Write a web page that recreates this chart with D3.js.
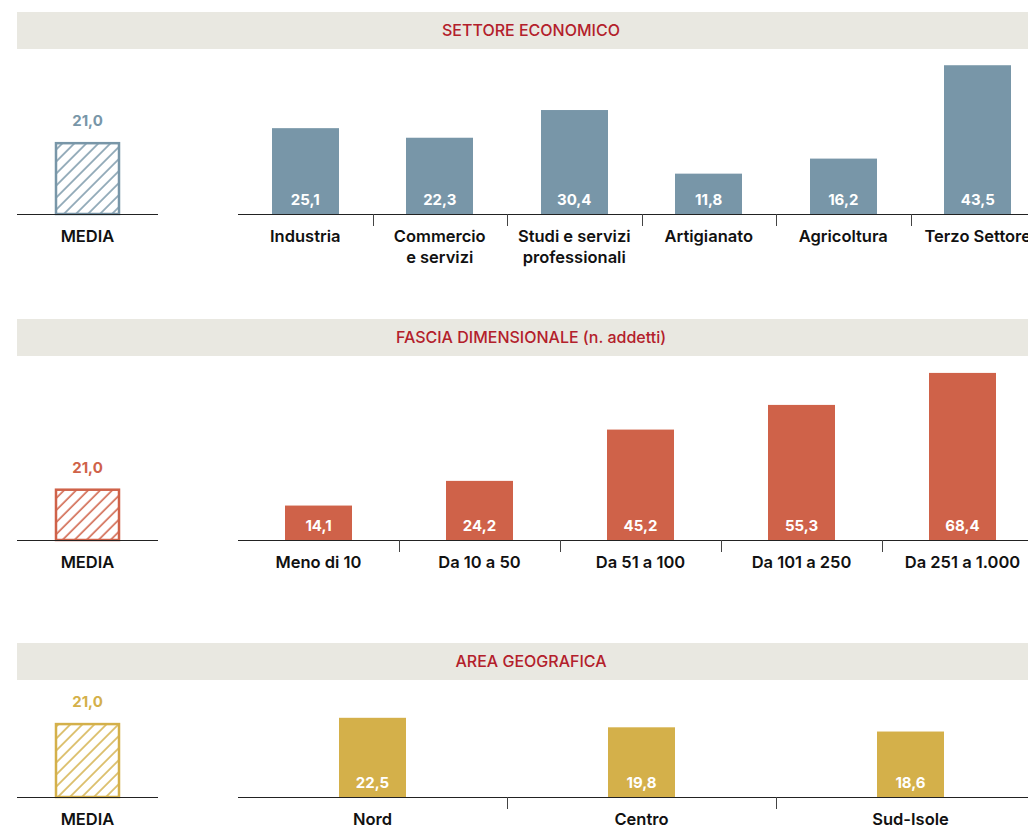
<!DOCTYPE html>
<meta charset="utf-8">
<style>
	body { margin: 0; background: #fff; }
	svg text { font-family: Inter, "Noto Sans", sans-serif; }
	.band { fill: #e9e8e1; }
	.title { fill: #b3202b; font-size: 16px; font-weight: 500; }
	.cat { fill: #111; font-size: 16.5px; font-weight: 600; }
	.val { fill: #fff; font-size: 15px; font-weight: 700; }
	.media-val { font-size: 15px; font-weight: 700; }
</style>
<body>
<svg width="1028" height="827"></svg>
</body>
<script src="https://cdn.jsdelivr.net/npm/d3@7"></script>
<script>

	// settore economico
	var settoreCats = ["Industria", "Commercio\ne servizi", "Studi e servizi\nprofessionali", "Artigianato", "Agricoltura", "Terzo Settore"];
	var settoreVals = [25.1, 22.3, 30.4, 11.8, 16.2, 43.5];

	// fascia dimensionale
	var fasciaCats = ["Meno di 10", "Da 10 a 50", "Da 51 a 100", "Da 101 a 250", "Da 251 a 1.000"];
	var fasciaVals = [14.1, 24.2, 45.2, 55.3, 68.4];

	// area geografica
	var areaCats = ["Nord", "Centro", "Sud-Isole"];
	var areaVals = [22.5, 19.8, 18.6];

	var media = 21.0;

	var svg = d3.select("svg");
	var defs = svg.append("defs");
	var fmt = function(v) { return d3.format(".1f")(v).replace(".", ","); };
	var barW = 67;

	var panels = [
		{ title: "SETTORE ECONOMICO", cats: settoreCats, vals: settoreVals, color: "#7896a8",
		  bandY: 12, base: 214, max: 50, h: 171, xEnd: 1045 },
		{ title: "FASCIA DIMENSIONALE (n. addetti)", cats: fasciaCats, vals: fasciaVals, color: "#cf6249",
		  bandY: 319, base: 540, max: 70, h: 171, xEnd: 1043 },
		{ title: "AREA GEOGRAFICA", cats: areaCats, vals: areaVals, color: "#d4b04a",
		  bandY: 643, base: 797, max: 25, h: 88, xEnd: 1045 }
	];

	panels.forEach(function(p, pi) {
		var g = svg.append("g");

		// header band
		g.append("rect").attr("class", "band")
			.attr("x", 17).attr("y", p.bandY)
			.attr("width", 1011).attr("height", 37);
		g.append("text").attr("class", "title")
			.attr("x", 531).attr("y", p.bandY + 24)
			.attr("text-anchor", "middle")
			.text(p.title);

		var y = d3.scaleLinear().domain([0, p.max]).range([p.base, p.base - p.h]);

		// hatch pattern for media
		var pat = defs.append("pattern")
			.attr("id", "hatch" + pi)
			.attr("patternUnits", "userSpaceOnUse")
			.attr("width", 8.5).attr("height", 8.5)
			.attr("patternTransform", "rotate(45)");
		pat.append("line")
			.attr("x1", 1).attr("y1", 0).attr("x2", 1).attr("y2", 8.5)
			.attr("stroke", p.color).attr("stroke-width", 1.5);

		// media box
		var mx = 87.5, mw = 65;
		g.append("rect")
			.attr("x", mx - mw / 2 + 1).attr("y", y(media) + 1)
			.attr("width", mw - 2).attr("height", y(0) - y(media) - 1)
			.attr("fill", "url(#hatch" + pi + ")")
			.attr("stroke", p.color).attr("stroke-width", 2.5);
		g.append("text").attr("class", "media-val")
			.attr("x", mx).attr("y", y(media) - 16)
			.attr("text-anchor", "middle").attr("fill", p.color)
			.text(fmt(media));
		g.append("line")
			.attr("x1", 17).attr("x2", 158).attr("y1", p.base + 0.5).attr("y2", p.base + 0.5)
			.attr("stroke", "#222");
		g.append("text").attr("class", "cat")
			.attr("x", mx).attr("y", p.base + 28)
			.attr("text-anchor", "middle")
			.text("MEDIA");

		// main bars
		var x = d3.scalePoint().domain(p.cats).range([238, p.xEnd]).padding(0.5);
		var step = x.step();

		g.append("line")
			.attr("x1", 238).attr("x2", 1028).attr("y1", p.base + 0.5).attr("y2", p.base + 0.5)
			.attr("stroke", "#222");

		// separator ticks between categories
		g.selectAll(".sep").data(p.cats.slice(1)).enter().append("line")
			.attr("x1", function(d) { return Math.round(x(d) - step / 2) + 0.5; })
			.attr("x2", function(d) { return Math.round(x(d) - step / 2) + 0.5; })
			.attr("y1", p.base).attr("y2", p.base + 12)
			.attr("stroke", "#444");

		var data = p.cats.map(function(c, i) { return { c: c, v: p.vals[i] }; });

		g.selectAll(".bar").data(data).enter().append("rect")
			.attr("x", function(d) { return Math.round(x(d.c) - barW / 2); })
			.attr("y", function(d) { return y(d.v); })
			.attr("width", barW)
			.attr("height", function(d) { return y(0) - y(d.v); })
			.attr("fill", p.color);

		g.selectAll(".val").data(data).enter().append("text").attr("class", "val")
			.attr("x", function(d) { return x(d.c); })
			.attr("y", p.base - 9)
			.attr("text-anchor", "middle")
			.text(function(d) { return fmt(d.v); });

		var labels = g.selectAll(".lab").data(data).enter().append("text").attr("class", "cat")
			.attr("text-anchor", "middle")
			.attr("y", p.base + 28);
		labels.selectAll("tspan").data(function(d) {
				return d.c.split("\n").map(function(s) { return { s: s, x: x(d.c) }; });
			}).enter().append("tspan")
			.attr("x", function(t) { return t.x; })
			.attr("dy", function(t, i) { return i ? 21 : 0; })
			.text(function(t) { return t.s; });
	});

</script>
